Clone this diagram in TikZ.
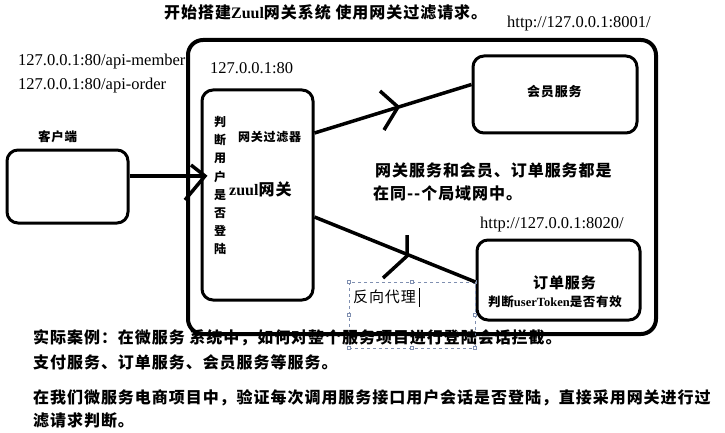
\documentclass[tikz,border=0pt]{standalone}
\usepackage{fontspec}
\setmainfont{Liberation Serif}
\newfontfamily\cjk[LetterSpace=6]{Noto Sans CJK SC}
\usetikzlibrary{calc}
\definecolor{selc}{HTML}{7F8FB0}
\begin{document}
\begin{tikzpicture}[x=1pt,y=-1pt,
  txt/.style={inner sep=0pt, anchor=west},
  latin/.style={txt, font=\fontsize{16.5}{18}\selectfont},
  cjkt/.style={txt, font=\cjk\bfseries\fontsize{16}{18}\selectfont},
  box/.style={draw, line width=3pt, rounded corners=11pt, inner sep=0pt},
  bigbox/.style={draw, line width=4pt, rounded corners=15pt, inner sep=0pt},
  conn/.style={line width=3.5pt},
  handle/.style={draw=selc, fill=white, line width=0.5pt, minimum size=3pt, inner sep=0pt}]
\useasboundingbox (0,0) rectangle (725,433);

% boxes
\node[bigbox, minimum width=468pt, minimum height=294pt] (outer) at (422,187) {};
\node[box, minimum width=111pt, minimum height=210pt] (gw) at (257.5,195) {};
\node[box, minimum width=121pt, minimum height=73pt] (client) at (67.5,186.5) {};
\node[box, minimum width=164pt, minimum height=77pt] (member) at (555,94.5) {};
\node[box, minimum width=163pt, minimum height=80pt] (order) at (558.5,280) {};

% selection box
\draw[selc, dashed, line width=0.6pt] (349,282) rectangle (475,348);
\foreach \hx/\hy [count=\i] in {349/282,412/282,475/282,349/315,475/315,349/348,412/348,475/348}
  \node[handle] (h\i) at (\hx,\hy) {};
\draw[line width=0.8pt] (419,288) -- (419,307);

% connectors
\draw[conn] ([yshift=10.5pt]client.east) -- ([yshift=19pt]gw.west);
\coordinate (t1) at (205,176);
\coordinate (a1) at (191,165);
\coordinate (b1) at (185,200);
\draw[conn] (a1) -- (t1) -- (b1);

\draw[conn] ([yshift=62pt]gw.east) -- ([yshift=10pt]member.west);
\coordinate (t2) at (398,107);
\coordinate (a2) at (380,91);
\coordinate (b2) at (384,130);
\draw[conn] (a2) -- (t2) -- (b2);

\draw[conn] ([yshift=-22pt]gw.east) -- ([yshift=-2pt]order.west);
\coordinate (t3) at (407,256);
\coordinate (a3) at (407,235);
\coordinate (b3) at (383,278);
\draw[conn] (a3) -- (t3) -- (b3);

% texts
\node[txt] (title) at (164,12) {\bfseries\fontsize{16}{18}\selectfont{\cjk 开始搭建}Zuul{\cjk 网关系统 使用网关过滤请求。}};
\node[latin] (u1) at (507,24) {http://127.0.0.1:8001/};
\node[latin] (m1) at (18,62) {127.0.0.1:80/api-member};
\node[latin] (m2) at (18,86) {127.0.0.1:80/api-order};
\node[latin] (g1) at (210,68) {127.0.0.1:80};
\node[txt, font=\cjk\bfseries\fontsize{12.5}{14}\selectfont] (cl) at (38,137) {客户端};
\node[txt, anchor=north, align=center, font=\cjk\bfseries\fontsize{12}{18.2}\selectfont] (vt) at (220,116) {判\\断\\用\\户\\是\\否\\登\\陆};
\node[txt, font=\cjk\bfseries\fontsize{12}{14}\selectfont] (gf) at (238,137) {网关过滤器};
\node[txt] (gz) at (229,189) {\bfseries\fontsize{16}{18}\selectfont zuul{\cjk 网关}};
\node[txt, font=\cjk\bfseries\fontsize{13}{15}\selectfont] (ms) at (527,92) {会员服务};
\node[cjkt] (n1) at (375,170) {网关服务和会员、订单服务都是};
\node[cjkt] (n2) at (373,193) {在同{-}{-}个局域网中。};
\node[latin] (u2) at (480,225) {http://127.0.0.1:8020/};
\node[txt, font=\cjk\bfseries\fontsize{15}{17}\selectfont] (os) at (533,283) {订单服务};
\node[txt] (ot) at (488,302) {\bfseries\fontsize{12.5}{14}\selectfont{\cjk 判断}userToken{\cjk 是否有效}};
\node[txt, font=\cjk\fontsize{15}{17}\selectfont] (rp) at (353,297) {反向代理};
\node[cjkt] (b1t) at (33,338) {实际案例：在微服务 系统中，如何对整个服务项目进行登陆会话拦截。};
\node[cjkt] (b2t) at (33,362) {支付服务、订单服务、会员服务等服务。};
\node[cjkt] (b3t) at (33,398) {在我们微服务电商项目中，验证每次调用服务接口用户会话是否登陆，直接采用网关进行过};
\node[cjkt] (b4t) at (33,420) {滤请求判断。};
\end{tikzpicture}
\end{document}
